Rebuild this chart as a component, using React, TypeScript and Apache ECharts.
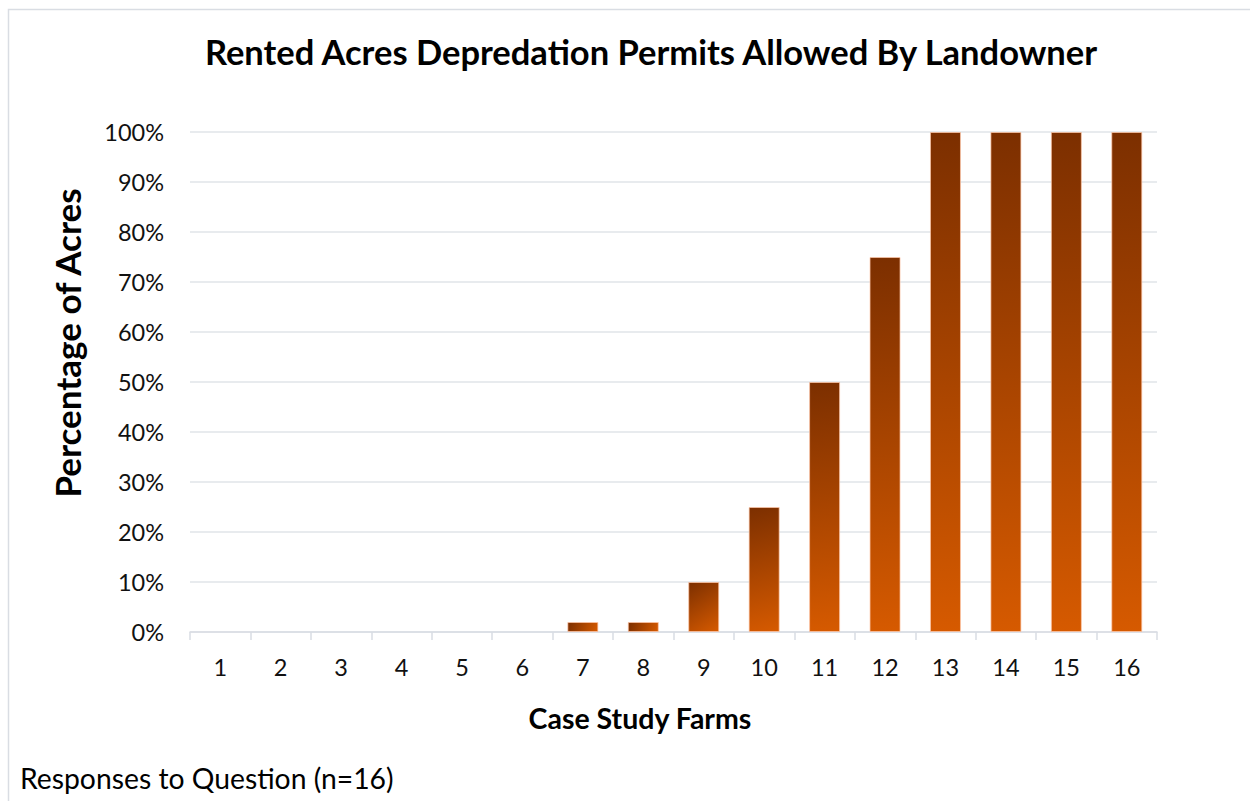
import React, { useEffect, useRef } from "react";
import * as echarts from "echarts";

const categories = ["1", "2", "3", "4", "5", "6", "7", "8", "9", "10", "11", "12", "13", "14", "15", "16"];
const percentValues = [0, 0, 0, 0, 0, 0, 2, 2, 10, 25, 50, 75, 100, 100, 100, 100];
const yTicks = [0, 10, 20, 30, 40, 50, 60, 70, 80, 90, 100];

const FONT = "Lato, 'Open Sans', sans-serif";
const BAR_WIDTH = 31;
const DARK = "#7c2f00";
const LIGHT = "#d65a00";

// Gradient from top-left to bottom-right corner, with isolines perpendicular
// to the diagonal in pixel space (converted to objectBoundingBox units).
function cornerGradient(w: number, h: number) {
  const w2 = w * w;
  const h2 = h * h;
  const denom = w2 * w2 + h2 * h2 || 1;
  const p = (w2 * (w2 + h2)) / denom;
  const q = (h2 * (w2 + h2)) / denom;
  return new echarts.graphic.LinearGradient(0, 0, p, q, [
    { offset: 0, color: DARK },
    { offset: 1, color: LIGHT },
  ]);
}

export default function App() {
  const ref = useRef<HTMLDivElement>(null);
  useEffect(() => {
    if (!ref.current) return;
    const chart = echarts.init(ref.current, null, { renderer: "svg" });
    const baseOption = {
      animation: false,
      backgroundColor: "#ffffff",
      grid: { left: 190, right: 93, top: 132, bottom: 169, containLabel: false },
      xAxis: {
        type: "category",
        data: categories,
        axisLine: { show: true, lineStyle: { color: "#d9dde3", width: 1.5 } },
        axisTick: { show: true, length: 8, alignWithLabel: false, lineStyle: { color: "#d9dde3", width: 1.5 } },
        axisLabel: { color: "#111111", fontSize: 23.5, fontFamily: FONT, margin: 23 },
      },
      yAxis: {
        type: "value",
        min: 0,
        max: 100,
        interval: 10,
        axisLine: { show: false },
        axisTick: { show: false },
        splitLine: { lineStyle: { color: "#e1e4e8", width: 1.5 } },
        axisLabel: {
          color: "#111111",
          fontSize: 23.5,
          fontFamily: FONT,
          margin: 26,
          formatter: (v: number) => (yTicks.includes(v) ? v + "%" : ""),
        },
      },
      series: [
        {
          type: "bar",
          data: percentValues,
          barWidth: BAR_WIDTH,
          itemStyle: { color: LIGHT },
        },
      ],
      graphic: [
        {
          type: "rect",
          shape: { x: 8.5, y: 9.5, width: 1400, height: 1000 },
          style: { fill: "none", stroke: "#d9dde3", lineWidth: 1.5 },
          silent: true,
        },
        {
          type: "text",
          x: 651,
          y: 51,
          style: {
            text: "Rented Acres Depredation Permits Allowed By Landowner",
            fontSize: 34.5,
            fontWeight: "bold",
            fontFamily: FONT,
            fill: "#000000",
            textAlign: "center",
            textVerticalAlign: "middle",
          },
        },
        {
          type: "text",
          x: 67,
          y: 343,
          rotation: Math.PI / 2,
          style: {
            text: "Percentage of Acres",
            fontSize: 35,
            fontWeight: "bold",
            fontFamily: FONT,
            fill: "#000000",
            textAlign: "center",
            textVerticalAlign: "middle",
          },
        },
        {
          type: "text",
          x: 640,
          y: 718,
          style: {
            text: "Case Study Farms",
            fontSize: 28.5,
            fontWeight: "bold",
            fontFamily: FONT,
            fill: "#000000",
            textAlign: "center",
            textVerticalAlign: "middle",
          },
        },
        {
          type: "text",
          x: 20,
          y: 778,
          style: {
            text: "Responses to Question (n=16)",
            fontSize: 28.3,
            fontFamily: FONT,
            fill: "#000000",
            textAlign: "left",
            textVerticalAlign: "middle",
          },
        },
      ],
    };
    chart.setOption(baseOption);

    const zeroY = chart.convertToPixel({ yAxisIndex: 0 }, 0) as number;
    const styledData = percentValues.map((v) => {
      const topY = chart.convertToPixel({ yAxisIndex: 0 }, v) as number;
      const h = Math.abs(zeroY - topY);
      return {
        value: v,
        itemStyle: {
          color: cornerGradient(BAR_WIDTH, h),
          borderColor: v > 0 ? "rgba(255,200,170,0.7)" : "rgba(0,0,0,0)",
          borderWidth: v > 0 ? 1 : 0,
        },
      };
    });
    chart.setOption({ series: [{ data: styledData }] });

    return () => chart.dispose();
  }, []);
  return (
    <div
      ref={ref}
      style={{ position: "absolute", left: 0, top: 0, width: 1250, height: 801 }}
    />
  );
}
